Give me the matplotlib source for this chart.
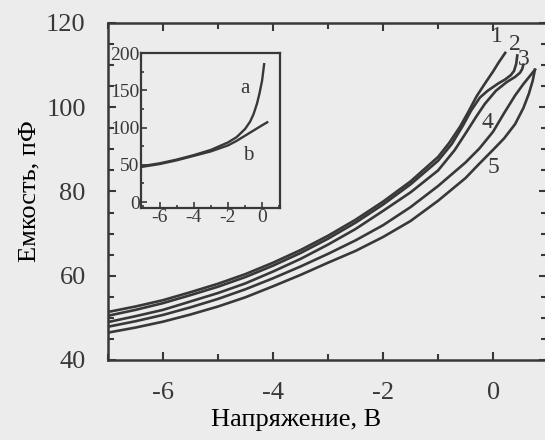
import matplotlib
matplotlib.use('Agg')
import matplotlib.pyplot as plt
from matplotlib.ticker import MultipleLocator

# main plot data (voltage in V, capacitance in pF)
v1 = [-7.0, -6.5, -6.0, -5.5, -5.0, -4.5, -4.0, -3.5, -3.0, -2.5, -2.0, -1.5, -1.0, -0.8, -0.6, -0.45, -0.3, -0.15, 0.0, 0.1, 0.22]
c1 = [51.4, 52.7, 54.2, 56.1, 58.1, 60.4, 63.1, 66.1, 69.5, 73.3, 77.6, 82.4, 88.2, 91.5, 95.4, 98.9, 102.6, 105.6, 108.5, 110.6, 112.9]

v2 = [-7.0, -6.5, -6.0, -5.5, -5.0, -4.5, -4.0, -3.5, -3.0, -2.5, -2.0, -1.5, -1.0, -0.75, -0.55, -0.4, -0.24, -0.1, 0.0, 0.1, 0.22, 0.32, 0.38, 0.42, 0.44]
c2 = [50.5, 51.9, 53.5, 55.4, 57.4, 59.7, 62.4, 65.4, 68.8, 72.6, 76.9, 81.7, 87.3, 91.3, 95.6, 99.2, 102.3, 103.9, 104.8, 105.7, 106.6, 107.6, 108.6, 110.3, 112.3]

v3 = [-7.0, -6.5, -6.0, -5.5, -5.0, -4.5, -4.0, -3.5, -3.0, -2.5, -2.0, -1.5, -1.0, -0.7, -0.5, -0.3, -0.15, 0.05, 0.25, 0.4, 0.49, 0.53, 0.55]
c3 = [49.0, 50.4, 51.9, 53.9, 55.9, 58.2, 61.0, 64.0, 67.4, 71.1, 75.4, 79.8, 85.0, 89.8, 93.8, 97.9, 100.8, 103.9, 106.0, 107.2, 108.2, 109.1, 110.1]

v4 = [-7.0, -6.5, -6.0, -5.5, -5.0, -4.5, -4.0, -3.5, -3.0, -2.5, -2.0, -1.5, -1.0, -0.5, -0.25, 0.0, 0.2, 0.4, 0.55, 0.68, 0.76]
c4 = [47.9, 49.2, 50.7, 52.5, 54.5, 56.8, 59.4, 62.2, 65.2, 68.4, 72.0, 76.3, 81.3, 86.9, 90.2, 94.2, 98.6, 102.8, 105.5, 107.6, 108.9]

v5 = [-7.0, -6.5, -6.0, -5.5, -5.0, -4.5, -4.0, -3.5, -3.0, -2.5, -2.0, -1.5, -1.0, -0.5, -0.25, 0.0, 0.2, 0.4, 0.55, 0.65, 0.72, 0.76]
c5 = [46.5, 47.7, 49.1, 50.8, 52.7, 54.9, 57.5, 60.2, 63.1, 65.9, 69.2, 73.0, 77.8, 83.2, 86.6, 89.9, 92.6, 96.0, 99.8, 103.2, 106.3, 108.9]

curve_labels = ['1', '2', '3', '4', '5']
label_v = [0.07, 0.40, 0.56, -0.11, 0.0]
label_c = [116.7, 114.8, 111.3, 96.3, 85.8]

# inset data
va = [-7.1, -6.0, -5.0, -4.0, -3.0, -2.0, -1.5, -1.0, -0.7, -0.5, -0.3, -0.15, 0.0, 0.12]
ca = [48, 52, 57, 63, 70, 80, 87, 98, 108, 118, 132, 146, 163, 185]
vb = [-7.1, -6.0, -5.0, -4.0, -3.0, -2.0, -1.5, -1.0, -0.5, 0.0, 0.3]
cb = [47, 51, 56, 62, 68, 76, 82, 89, 96, 103, 107]

BG = '#ececec'
INK = '#383838'

plt.rcParams['font.family'] = ['Liberation Serif', 'DejaVu Serif']
plt.rcParams['axes.unicode_minus'] = False
plt.rcParams['text.color'] = INK
plt.rcParams['axes.edgecolor'] = INK
plt.rcParams['xtick.color'] = INK
plt.rcParams['ytick.color'] = INK

fig = plt.figure(figsize=(5.45, 4.4), dpi=100, facecolor=BG)
ax = fig.add_axes([108 / 545, 80 / 440, 439 / 545, 337 / 440])
ax.set_facecolor(BG)

for v, c in [(v1, c1), (v2, c2), (v3, c3), (v4, c4), (v5, c5)]:
    ax.plot(v, c, color=INK, lw=1.9, solid_joinstyle='round')

for t, x, y in zip(curve_labels, label_v, label_c):
    ax.text(x, y, t, fontsize=17, ha='center', va='center')

ax.set_xlim(-7.0, 0.98)
ax.set_ylim(40, 120)
ax.xaxis.set_major_locator(MultipleLocator(2))
ax.xaxis.set_minor_locator(MultipleLocator(1))
ax.yaxis.set_major_locator(MultipleLocator(20))
ax.yaxis.set_minor_locator(MultipleLocator(5))
ax.tick_params(which='both', direction='in', top=True, right=True, width=1.5, labelsize=19)
ax.tick_params(axis='y', which='major', length=6, pad=16)
ax.tick_params(axis='x', which='major', length=6, pad=16)
ax.tick_params(which='minor', length=4)
for s in ax.spines.values():
    s.set_linewidth(1.8)
ax.set_xlabel('Напряжение, В', fontsize=19)
ax.xaxis.set_label_coords(0.428, -0.145)
ax.set_ylabel('Емкость, пФ', fontsize=19, labelpad=4)

# inset
ins = fig.add_axes([141 / 545, 232 / 440, 139 / 545, 155 / 440])
ins.set_facecolor(BG)
ins.plot(va, ca, color=INK, lw=1.7)
ins.plot(vb, cb, color=INK, lw=1.7)
ins.text(-1.0, 153, 'a', fontsize=15, ha='center', va='center')
ins.text(-0.82, 63, 'b', fontsize=15, ha='center', va='center')
ins.set_xlim(-7.1, 1.05)
ins.set_ylim(-8, 200)
ins.xaxis.set_major_locator(MultipleLocator(2))
ins.xaxis.set_minor_locator(MultipleLocator(1))
ins.yaxis.set_major_locator(MultipleLocator(50))
ins.yaxis.set_minor_locator(MultipleLocator(25))
ins.tick_params(which='both', direction='in', width=1.2, labelsize=14, pad=1)
ins.tick_params(which='major', length=4)
ins.tick_params(which='minor', length=2.5)
for s in ins.spines.values():
    s.set_linewidth(1.6)

fig.savefig('out.png', dpi=100, facecolor=BG)
